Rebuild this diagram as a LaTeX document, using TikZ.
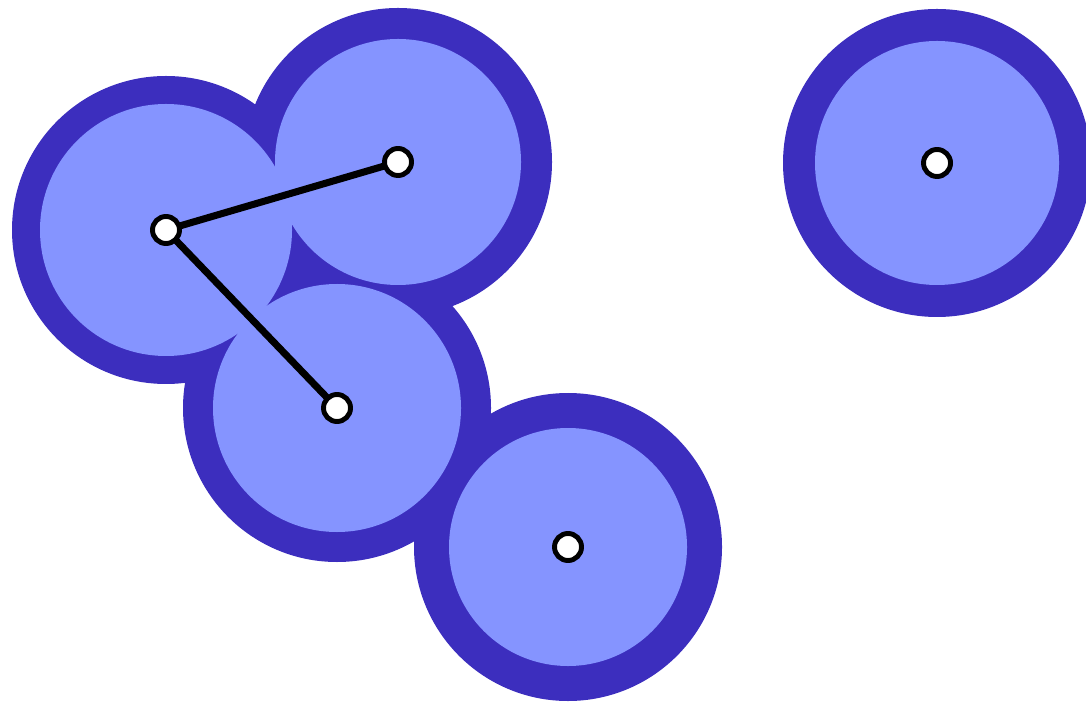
\documentclass[tikz,border=0pt]{standalone}
\definecolor{ringblue}{RGB}{60,46,190}
\definecolor{fillblue}{RGB}{133,148,255}
\begin{document}
\begin{tikzpicture}[x=0.01cm,y=-0.01cm,
  ring/.style={fill=ringblue},
  core/.style={fill=fillblue},
  pt/.style={circle,draw=black,fill=white,line width=1.4pt,minimum size=0.27cm,inner sep=0pt},
  link/.style={line width=2pt,draw=black}]
\useasboundingbox (0,0) rectangle (1086,704);
\begin{scope}
\clip (0,0) rectangle (1086,704);
\fill[ring] (166,230) circle (154);
\fill[ring] (398,162) circle (154);
\fill[ring] (337,408) circle (154);
\fill[ring] (568,547) circle (154);
\fill[ring] (937,163) circle (154);
\fill[core] (166,230) circle (126);
\fill[core] (398,162) circle (123);
\fill[core] (337,408) circle (124);
\fill[core] (568,547) circle (119);
\fill[core] (937,163) circle (122);
\end{scope}
\coordinate (a) at (166,230);
\coordinate (b) at (398,162);
\coordinate (c) at (337,408);
\coordinate (d) at (568,547);
\coordinate (e) at (937,163);
\draw[link] (a) -- (b);
\draw[link] (a) -- (c);
\node[pt] (pa) at (a) {};
\node[pt] (pb) at (b) {};
\node[pt] (pc) at (c) {};
\node[pt] (pd) at (d) {};
\node[pt] (pe) at (e) {};
\end{tikzpicture}
\end{document}
